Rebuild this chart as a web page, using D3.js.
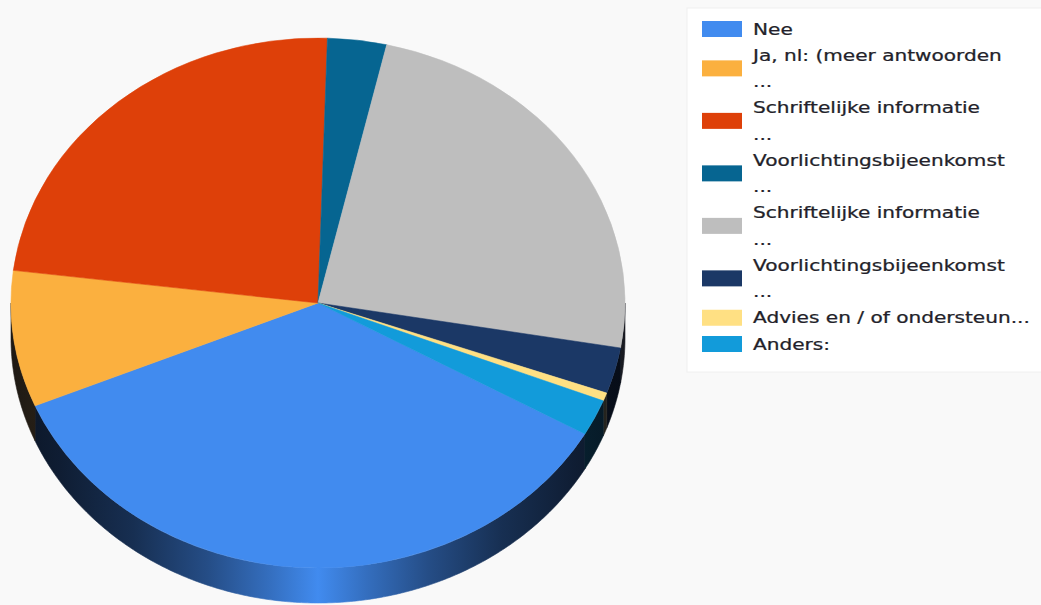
<!DOCTYPE html>
<html>
<head>
<meta charset="utf-8">
<script src="https://cdn.jsdelivr.net/npm/d3@7"></script>
<style>
  body { margin: 0; background: #f9f9f9; }
  svg { display: block; }
</style>
</head>
<body>
<script>
// pie data (share in %)
var categories = ["Nee", "Ja, nl: (meer antwoorden", "Schriftelijke informatie",
    "Voorlichtingsbijeenkomst", "Schriftelijke informatie", "Voorlichtingsbijeenkomst",
    "Advies en / of ondersteun...", "Anders:"];
var truncated = [false, true, true, true, true, true, false, false]; // legend shows "..." line
var values = [35.4, 8.3, 23.5, 3.1, 24.1, 2.8, 0.5, 2.2];
var colors = ["#418bef", "#fbb03f", "#de4009", "#066591", "#bebebe", "#1b3866", "#ffe083", "#129bda"];

window.onload = function() {
    var w = 1041, h = 605;
    var cx = 318, cy = 303, rx = 307, ry = 265, depth = 35;
    var startDeg = 119.6;

    var svg = d3.select("body").append("svg")
        .attr("width", w)
        .attr("height", h);

    var defs = svg.append("defs");

    var pie = d3.pie()
        .sort(null)
        .value(function(d) { return d; })
        .startAngle(startDeg * Math.PI / 180)
        .endAngle(startDeg * Math.PI / 180 + 2 * Math.PI);

    var arcs = pie(values);

    // side wall gradients: bright in the middle, dark towards the edges
    var shade = [[0, 0.9], [0.08, 0.84], [0.2, 0.7], [0.32, 0.47], [0.42, 0.22], [0.5, 0],
                 [0.58, 0.22], [0.68, 0.47], [0.8, 0.7], [0.92, 0.84], [1, 0.9]];
    colors.forEach(function(c, i) {
        var g = defs.append("linearGradient")
            .attr("id", "side" + i)
            .attr("gradientUnits", "userSpaceOnUse")
            .attr("x1", cx - rx).attr("x2", cx + rx)
            .attr("y1", 0).attr("y2", 0);
        shade.forEach(function(s) {
            g.append("stop")
                .attr("offset", s[0])
                .attr("stop-color", d3.interpolateRgb(c, "#05080f")(s[1]));
        });
    });

    function pt(a, dy) {
        return [cx + rx * Math.sin(a), cy - ry * Math.cos(a) + dy];
    }

    // visible front part of each slice (angles between 90 and 270 degrees)
    var sides = [];
    arcs.forEach(function(d, i) {
        [0, 2 * Math.PI].forEach(function(off) {
            var s = Math.max(d.startAngle, Math.PI / 2 + off);
            var e = Math.min(d.endAngle, 3 * Math.PI / 2 + off);
            if (e > s) sides.push({ i: i, s: s, e: e });
        });
    });

    var sideG = svg.append("g").attr("class", "sides");
    sideG.selectAll("path")
        .data(sides)
        .enter().append("path")
        .attr("d", function(d) {
            var n = Math.max(2, Math.ceil((d.e - d.s) / 0.01));
            var top = d3.range(n + 1).map(function(k) { return pt(d.s + (d.e - d.s) * k / n, 0); });
            var bot = d3.range(n + 1).map(function(k) { return pt(d.e - (d.e - d.s) * k / n, depth); });
            return d3.line()(top.concat(bot)) + "Z";
        })
        .attr("fill", function(d) { return "url(#side" + d.i + ")"; })
        .attr("stroke", function(d) { return "url(#side" + d.i + ")"; })
        .attr("stroke-width", 0.6);

    // top face: circular arcs squashed into an ellipse
    var arc = d3.arc().innerRadius(0).outerRadius(rx);
    var topG = svg.append("g")
        .attr("transform", "translate(" + cx + "," + cy + ") scale(1," + (ry / rx) + ")");
    topG.selectAll("path")
        .data(arcs)
        .enter().append("path")
        .attr("d", arc)
        .attr("fill", function(d, i) { return colors[i]; })
        .attr("stroke", function(d, i) { return colors[i]; })
        .attr("stroke-width", 0.6);

    // legend
    var lx = 687, ly = 8, lineH = 26.25;
    var legend = svg.append("g").attr("class", "legend");
    legend.append("rect")
        .attr("x", lx).attr("y", ly)
        .attr("width", w - lx + 5).attr("height", 364)
        .attr("fill", "#ffffff")
        .attr("stroke", "#f0f0f0");

    var line = 0;
    categories.forEach(function(name, i) {
        var lines = truncated[i] ? [name, "..."] : [name];
        var first = 34.5 + lineH * line;
        var mid = first - 4.5 + lineH * (lines.length - 1) / 2;
        legend.append("rect")
            .attr("x", 702).attr("y", mid - 9)
            .attr("width", 40).attr("height", 16)
            .attr("fill", colors[i]);
        lines.forEach(function(t, k) {
            legend.append("text")
                .attr("transform", "translate(753," + (first + lineH * k) + ") scale(1.34,1)")
                .attr("font-family", "DejaVu Sans, Verdana, sans-serif")
                .attr("font-size", 15)
                .attr("fill", "#231f2a")
                .attr("stroke", "#231f2a")
                .attr("stroke-width", 0.25)
                .text(t);
        });
        line += lines.length;
    });
};
</script>
</body>
</html>
